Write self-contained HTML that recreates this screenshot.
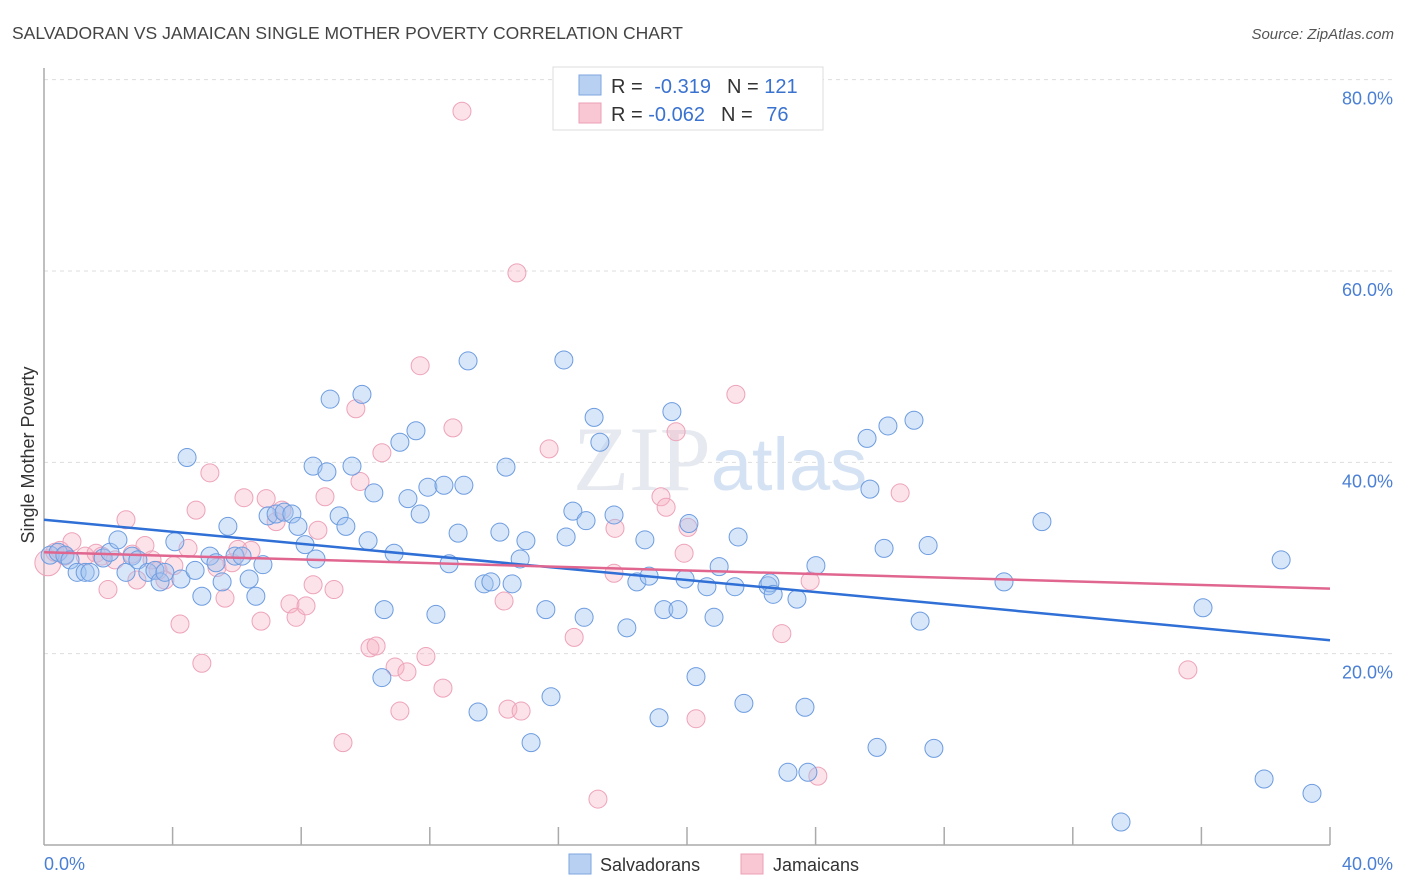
<!DOCTYPE html>
<html><head><meta charset="utf-8"><style>
body{margin:0;background:#fff;font-family:"Liberation Sans",sans-serif}
svg{display:block}
</style></head><body>
<svg id="chart" width="1406" height="892" viewBox="0 0 1406 892" xmlns="http://www.w3.org/2000/svg">
<text x="12" y="39" font-size="17.5" fill="#444" font-family="Liberation Sans, sans-serif">SALVADORAN VS JAMAICAN SINGLE MOTHER POVERTY CORRELATION CHART</text>
<text x="1394" y="39" font-size="15" fill="#555" font-style="italic" text-anchor="end">Source: ZipAtlas.com</text>
<g id="grid"></g>
<text x="720" y="490" font-size="92" text-anchor="middle" fill="#e6e9ef" font-family="Liberation Serif, serif">ZIP<tspan font-family="Liberation Sans, sans-serif" font-size="74" fill="#d4e2f4">atlas</tspan></text>
<line x1="44" y1="68" x2="44" y2="845" stroke="#aaa" stroke-width="1.5"/>
<line x1="44" y1="845" x2="1330" y2="845" stroke="#aaa" stroke-width="1.5"/>
<g id="ticks"></g>
<g id="pts"></g>
<g id="trend"></g>
<text transform="translate(34,455) rotate(-90)" font-size="18" fill="#333" text-anchor="middle">Single Mother Poverty</text>
<text x="44" y="870" font-size="18" fill="#4a7fd4">0.0%</text>
<text x="1393" y="870" font-size="18" fill="#4a7fd4" text-anchor="end">40.0%</text>
<g font-family="Liberation Sans, sans-serif">
<rect x="553" y="67" width="270" height="63" fill="#fff" stroke="#ddd"/>
<rect x="579" y="75" width="22" height="20" fill="#b8d0f2" stroke="#7ea6e0"/>
<rect x="579" y="103" width="22" height="20" fill="#f9c6d4" stroke="#eba0b6"/>
<text x="611" y="93" font-size="20" fill="#333">R = <tspan fill="#3a72d0" dx="6">-0.319</tspan><tspan dx="16">N = </tspan><tspan fill="#3a72d0">121</tspan></text>
<text x="611" y="121" font-size="20" fill="#333">R = <tspan fill="#3a72d0">-0.062</tspan><tspan dx="16">N = </tspan><tspan fill="#3a72d0" dx="8">76</tspan></text>
</g>
<g>
<rect x="569" y="854" width="22" height="20" fill="#b8d0f2" stroke="#7ea6e0"/>
<text x="600" y="871" font-size="18" fill="#333">Salvadorans</text>
<rect x="741" y="854" width="22" height="20" fill="#f9c6d4" stroke="#eba0b6"/>
<text x="773" y="871" font-size="18" fill="#333">Jamaicans</text>
</g>
</svg>
<script>
const yTicks=[20,40,60,80];
const yTickLabels=["20.0%","40.0%","60.0%","80.0%"];
const xTicks=[4,8,12,16,20,24,28,32,36,40];
const blueX=[0.19,0.44,0.65,0.81,1.03,1.28,1.43,1.84,2.05,2.30,2.55,2.74,2.92,3.23,3.45,3.61,3.76,4.07,4.26,4.45,4.70,4.91,5.16,5.35,5.54,5.72,5.94,6.16,6.38,6.59,6.81,6.97,7.22,7.47,7.71,7.90,8.12,8.46,8.37,8.80,8.90,9.18,9.39,9.58,9.89,10.08,10.26,10.58,10.51,10.89,11.07,11.32,11.57,11.70,11.94,12.19,12.44,12.60,12.88,13.06,13.19,13.50,13.69,13.90,14.18,14.37,14.56,14.81,14.99,15.15,15.61,15.77,16.17,16.24,16.45,16.80,16.86,17.11,17.29,17.73,18.13,18.44,18.69,18.82,19.13,19.28,19.53,19.72,20.06,19.94,20.28,20.62,20.84,21.00,21.49,21.59,21.77,22.52,22.58,23.14,22.68,23.42,23.67,23.76,24.01,25.60,25.69,25.91,26.13,26.25,27.06,27.25,27.50,27.68,29.86,31.04,33.50,36.05,37.95,38.48,39.44];
const blueY=[30.3,30.6,30.3,29.8,28.5,28.5,28.5,30.0,30.6,31.9,28.5,30.2,29.8,28.5,28.7,27.5,28.5,31.7,27.8,40.5,28.7,26.0,30.2,29.5,27.5,33.3,30.2,30.2,27.8,26.0,29.3,34.4,34.6,34.8,34.6,33.3,31.4,29.9,39.6,39.0,46.6,34.4,33.3,39.6,47.1,31.8,36.8,24.6,17.5,30.5,42.1,36.2,43.3,34.6,37.4,24.1,37.6,29.4,32.6,37.6,50.6,13.9,27.3,27.5,32.7,39.5,27.3,29.9,31.8,10.7,24.6,15.5,50.7,32.2,34.9,23.8,33.9,44.7,42.1,34.5,22.7,27.5,31.9,28.1,13.3,24.6,45.3,24.6,33.6,27.8,17.6,27.0,23.8,29.1,27.0,32.2,14.8,27.1,27.4,7.6,26.2,25.7,14.4,7.6,29.2,42.5,37.2,10.2,31.0,43.8,44.4,23.4,31.3,10.1,27.5,33.8,2.4,24.8,6.9,29.8,5.4];
const pinkX=[0.12,0.34,0.50,0.65,0.87,1.28,1.62,1.80,1.99,2.21,2.55,2.74,2.89,3.14,3.36,3.55,3.76,4.04,4.23,4.48,4.73,4.91,5.16,5.38,5.63,5.85,6.03,6.22,6.44,6.75,6.91,7.22,7.40,7.65,7.84,8.15,8.37,8.52,8.74,9.02,9.30,9.70,9.83,10.14,10.33,10.51,10.92,11.07,11.29,11.70,11.88,12.41,12.72,13.00,14.31,14.43,14.71,14.84,15.71,16.49,17.23,17.73,17.76,19.19,19.35,19.66,19.91,20.03,20.28,21.52,22.95,23.83,24.07,26.63,35.58];
const pinkY=[29.5,30.6,30.8,30.2,31.7,30.2,30.5,30.2,26.7,29.8,34.0,30.4,27.7,31.3,29.8,28.7,27.7,29.2,23.1,31.0,35.0,19.0,38.9,29.0,25.8,29.5,30.9,36.3,30.8,23.4,36.2,33.8,35.0,25.2,23.8,25.0,27.2,32.9,36.4,26.7,10.7,45.6,38.0,20.6,20.8,41.0,18.6,14.0,18.1,50.1,19.7,16.4,43.6,76.7,25.5,14.2,59.8,14.0,41.4,21.7,4.8,28.4,33.1,36.4,35.3,43.2,30.5,33.2,13.2,47.1,22.1,27.6,7.2,36.8,18.3];
const blueTrend=[34.0,21.4];
const pinkTrend=[30.6,26.8];
const NS="http://www.w3.org/2000/svg";
const sx=v=>44+v*32.15;
const sy=v=>845-v*9.567;
function mk(tag,attrs,parent){const e=document.createElementNS(NS,tag);for(const k in attrs)e.setAttribute(k,attrs[k]);document.getElementById(parent).appendChild(e);return e;}
yTicks.forEach((t,i)=>{
 const l=mk('line',{x1:44,x2:1393,y1:sy(t),y2:sy(t),stroke:'#ddd','stroke-dasharray':'4 4'},'grid');
 
 
 const tx=mk('text',{x:1393,y:sy(t)+25,'font-size':18,fill:'#4a7fd4','text-anchor':'end'},'grid');
 tx.textContent=yTickLabels[i];
 
 
});
xTicks.forEach(t=>{
 const l=mk('line',{x1:sx(t),x2:sx(t),y1:827,y2:845,stroke:'#aaa','stroke-width':1.5},'ticks');
 
 
});
pinkX.forEach((x,i)=>{
 const c=mk('circle',{cx:sx(x),cy:sy(pinkY[i]),r:i===0?13:9,fill:'rgba(246,178,198,0.38)',stroke:'#eda3b9','stroke-width':1},'pts');
 
 
});
blueX.forEach((x,i)=>{
 const c=mk('circle',{cx:sx(x),cy:sy(blueY[i]),r:9,fill:'rgba(160,196,240,0.42)',stroke:'#6d9ce0','stroke-width':1},'pts');
 
 
});
const bl=mk('line',{x1:sx(0),y1:sy(blueTrend[0]),x2:sx(40),y2:sy(blueTrend[1]),stroke:'#2f6fd6','stroke-width':2.5},'trend');


const pl=mk('line',{x1:sx(0),y1:sy(pinkTrend[0]),x2:sx(40),y2:sy(pinkTrend[1]),stroke:'#e0668f','stroke-width':2.5},'trend');


</script>
</body></html>
